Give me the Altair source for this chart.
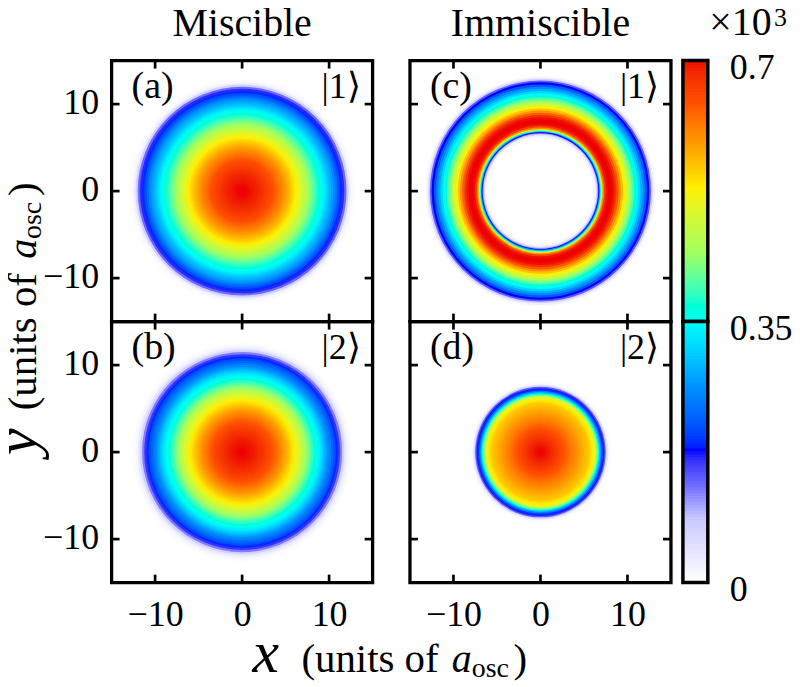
import altair as alt
import pandas as pd

# radial density profiles (radius in a_osc, density in 10^3)
r_a = [0.25, 0.5, 0.75, 1, 1.25, 1.5, 1.75, 2, 2.25, 2.5, 2.75, 3, 3.25, 3.5, 3.75, 4, 4.25, 4.5, 4.75, 5,
       5.25, 5.5, 5.75, 6, 6.25, 6.5, 6.75, 7, 7.25, 7.5, 7.75, 8, 8.25, 8.5, 8.75, 9, 9.25, 9.5, 9.75, 10,
       10.25, 10.5, 10.75, 11, 11.25, 11.5, 11.75, 12, 12.25, 12.5, 12.75, 13]
n_a = [.700, .699, .698, .696, .693, .690, .687, .683, .678, .673, .667, .661, .654, .647, .639, .630, .621, .612, .602, .591,
       .580, .568, .556, .543, .530, .516, .502, .487, .472, .456, .440, .425, .410, .395, .380, .367, .352, .340, .320, .300,
       .285, .270, .250, .225, .205, .185, .165, .130, .070, .025, .008, .002]

r_b = [0.25, 0.5, 0.75, 1, 1.25, 1.5, 1.75, 2, 2.25, 2.5, 2.75, 3, 3.25, 3.5, 3.75, 4, 4.25, 4.5, 4.75, 5,
       5.25, 5.5, 5.75, 6, 6.25, 6.5, 6.75, 7, 7.25, 7.5, 7.75, 8, 8.25, 8.5, 8.75, 9, 9.25, 9.5, 9.75, 10,
       10.25, 10.5, 10.75, 11, 11.25, 11.5, 11.75, 12, 12.25, 12.5, 12.75]
n_b = [.700, .699, .697, .695, .693, .690, .686, .681, .676, .671, .665, .658, .651, .643, .635, .626, .616, .606, .595, .584,
       .572, .559, .546, .533, .518, .504, .488, .472, .455, .437, .419, .400, .384, .368, .352, .338, .318, .298, .278, .258,
       .240, .222, .205, .185, .160, .120, .070, .035, .015, .005, .001]

r_c = [6.0, 6.2, 6.4, 6.55, 6.65, 6.75, 6.85, 6.95, 7.05, 7.15, 7.3, 7.5, 7.75, 8, 8.25, 8.5, 8.75, 9, 9.25, 9.5,
       9.75, 10, 10.25, 10.5, 10.75, 11, 11.25, 11.5, 11.75, 12, 12.25, 12.5, 12.7, 12.9, 13.1, 13.3]
n_c = [0, .005, .02, .06, .11, .175, .26, .35, .45, .54, .60, .66, .695, .70, .70, .695, .675, .635, .595, .56,
       .527, .495, .46, .43, .40, .37, .345, .315, .28, .25, .21, .175, .14, .07, .025, .005]

r_d = [0.25, 0.5, 0.75, 1, 1.25, 1.5, 1.75, 2, 2.25, 2.5, 2.75, 3, 3.25, 3.5, 3.75, 4, 4.25, 4.5, 4.75, 5,
       5.25, 5.5, 5.75, 6, 6.15, 6.3, 6.45, 6.6, 6.75, 6.9, 7.05, 7.2, 7.35, 7.5, 7.65, 7.8, 8, 8.2]
n_d = [.700, .698, .695, .690, .685, .680, .673, .665, .658, .650, .642, .635, .628, .620, .612, .604, .597, .590, .582, .575,
       .567, .560, .552, .535, .520, .50, .47, .42, .35, .29, .24, .19, .17, .14, .07, .03, .008, .002]

# colour map of the bar
cmap_levels = [0, .02, .084, .13, .175, .26, .35, .44, .527, .59, .64, .70]
cmap_colors = ["#ffffff", "#f2f2ff", "#c8c8ff", "#6a6aff", "#0000ff", "#0090ff", "#00fff0",
               "#a0ff60", "#fff000", "#ff9600", "#ff5000", "#ee0000"]

ticks = [-10, 0, 10]
SERIF = "Liberation Serif"
SIZE = 262
color_scale = alt.Scale(type="linear", domain=cmap_levels, range=cmap_colors)


def label(text, px, py, size=38, **kw):
    return (
        alt.Chart(pd.DataFrame({"t": [text]}))
        .mark_text(font=SERIF, fontSize=size, color="black", baseline="alphabetic",
                   align=kw.pop("align", "left"), **kw)
        .encode(x=alt.value(px), y=alt.value(py), text="t:N")
    )


def panel(radii, dens, tag, ket, left=False, bottom=False, extra=()):
    rings = pd.DataFrame({"r": radii, "n": dens}).sort_values("r", ascending=False)
    disks = (
        alt.Chart(rings)
        .mark_arc(theta=0, theta2=6.2832)
        .encode(
            radius=alt.Radius("r:Q", stack=False, scale=alt.Scale(type="linear", domain=[0, 15], range=[0, SIZE / 2])),
            color=alt.Color("n:Q", scale=color_scale, legend=None),
        )
    )
    tk = alt.Chart(pd.DataFrame({"t": ticks}))
    sx = alt.Scale(domain=[-15, 15], nice=False)
    ax_y = alt.Axis(values=ticks, labels=left, title=None, labelOffset=-1.5, labelPadding=13)
    ax_x = alt.Axis(values=ticks, labels=bottom, title=None, labelPadding=15)
    rule = tk.mark_rule(color="black", strokeWidth=2.7)
    y_l = rule.encode(y=alt.Y("t:Q", scale=sx, axis=ax_y), x=alt.value(0), x2=alt.value(8))
    y_r = rule.encode(y=alt.Y("t:Q", scale=sx), x=alt.value(SIZE - 8), x2=alt.value(SIZE))
    x_b = rule.encode(x=alt.X("t:Q", scale=sx, axis=ax_x), y=alt.value(SIZE - 8), y2=alt.value(SIZE))
    x_t = rule.encode(x=alt.X("t:Q", scale=sx), y=alt.value(0), y2=alt.value(8))
    return alt.layer(
        disks, y_l, y_r, x_b, x_t,
        label(tag, 20, 38),
        label(ket, 250, 38, size=36, align="right"),
        *extra,
    ).properties(width=SIZE, height=SIZE)


def bar_panel(lo, hi, shown, extra=()):
    bar_y = alt.Y(
        "level:Q",
        scale=alt.Scale(domain=[lo, hi], nice=False),
        axis=alt.Axis(values=shown, format="~g", orient="right", title=None, labelPadding=20, labelOffset=6.5),
    )
    fill = (
        alt.Chart(alt.sequence(lo, hi, 0.004, as_="level"))
        .transform_calculate(top=str(hi))
        .mark_rect()
        .encode(y=bar_y, y2="top:Q", x=alt.value(-25.5), x2=alt.value(-0.5),
                color=alt.Color("level:Q", scale=color_scale, legend=None))
    )
    frame = (
        alt.Chart(pd.DataFrame({"level": [lo], "top": [hi]}))
        .mark_rect(fill="transparent", stroke="black", strokeWidth=3.5)
        .encode(y=alt.Y("level:Q"), y2="top:Q", x=alt.value(-25.5), x2=alt.value(-0.5))
    )
    return alt.layer(fill, frame, *extra).properties(
        width=1, height=SIZE, view=alt.ViewConfig(strokeWidth=0)
    )


title_a = label("Miscible", SIZE / 2, -25, size=40, align="center")
title_c = label("Immiscible", SIZE / 2, -25, size=40, align="center")
y_title = [
    label("y", -76, 134, size=60, angle=270, fontStyle="italic"),
    label("(units of", -76, 89, size=41, angle=270),
    label("a", -76, -63, size=40, angle=270, fontStyle="italic"),
    label("osc", -71, -83, size=28, angle=270),
    label(")", -76, -126, size=41, angle=270),
]
x_title = [
    label("x", 141.5, 352, size=60, fontStyle="italic"),
    label("(units of", 190.5, 352, size=41),
    label("a", 341.5, 352, size=40, fontStyle="italic"),
    label("osc", 361.5, 357, size=28),
    label(")", 403.5, 352, size=41),
]

a = panel(r_a, n_a, "(a)", "|1⟩", left=True, extra=[title_a])
b = panel(r_b, n_b, "(b)", "|2⟩", left=True, bottom=True, extra=y_title + x_title)
c = panel(r_c, n_c, "(c)", "|1⟩", extra=[title_c])
d = panel(r_d, n_d, "(d)", "|2⟩", bottom=True)
bar_top = bar_panel(0.35, 0.7, [0.35, 0.7], extra=[label("×10", 1, -26, size=40), label("3", 66, -35, size=26)])
bar_bottom = bar_panel(0, 0.35, [0])

chart = (
    alt.concat(a, c, bar_top, b, d, bar_bottom, columns=3, spacing={"row": 0, "column": 37.5}, bounds="flush")
    .properties(padding={"top": -7.5, "left": -22, "right": 0, "bottom": 0})
    .configure_view(stroke="black", strokeWidth=3.3)
    .configure_axis(grid=False, domain=False, ticks=False, labelFont=SERIF, labelFontSize=36,
                    labelColor="black", labelFlush=False, labelOverlap=False)
)

chart.save("out.html", embed_options={"renderer": "svg", "actions": False})
